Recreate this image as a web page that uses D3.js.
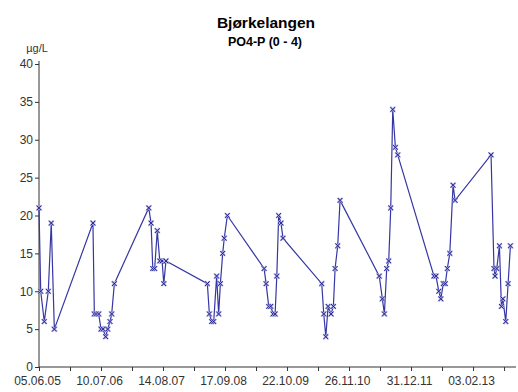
<!DOCTYPE html>
<html>
<head>
<meta charset="utf-8">
<script src="https://cdn.jsdelivr.net/npm/d3@7"></script>
<style>
  body { margin: 0; background: #fff; }
  text { font-family: "Liberation Sans", Arial, sans-serif; }
</style>
</head>
<body>
<div id="chart"></div>
<script>
  // sample dates and PO4-P values (µg/L)
  var dates = [
    "2005-06-05","2005-06-16","2005-07-09","2005-08-04","2005-08-23","2005-09-12",
    "2006-05-19","2006-05-28","2006-06-10","2006-06-25","2006-07-10","2006-07-23",
    "2006-08-09","2006-08-22","2006-09-06","2006-09-17","2006-10-04",
    "2007-05-14","2007-05-29","2007-06-09","2007-06-21","2007-07-08","2007-07-24",
    "2007-08-08","2007-08-19","2007-09-02",
    "2008-05-26","2008-06-08","2008-06-23","2008-07-06","2008-07-25","2008-08-07",
    "2008-08-18","2008-09-02","2008-09-12","2008-10-02",
    "2009-05-27","2009-06-09","2009-06-26","2009-07-09","2009-07-24","2009-08-06",
    "2009-08-17","2009-08-29","2009-09-13","2009-09-26",
    "2010-06-03","2010-06-16","2010-06-29","2010-07-14","2010-08-02","2010-08-17",
    "2010-08-28","2010-09-14","2010-09-29",
    "2011-06-09","2011-06-29","2011-07-12","2011-07-27","2011-08-09","2011-08-22",
    "2011-09-04","2011-09-21","2011-10-06",
    "2012-05-27","2012-06-09","2012-06-27","2012-07-10","2012-07-26","2012-08-08",
    "2012-08-21","2012-09-06","2012-09-27","2012-10-10",
    "2013-05-30","2013-06-18","2013-06-25","2013-07-06","2013-07-23","2013-08-05",
    "2013-08-14","2013-09-02","2013-09-17","2013-10-02"
  ];
  var values = [
    21, 10, 6, 10, 19, 5,
    19, 7, 7, 7, 5, 5,
    4, 5, 6, 7, 11,
    21, 19, 13, 13, 18, 14,
    14, 11, 14,
    11, 7, 6, 6, 12, 7,
    11, 15, 17, 20,
    13, 11, 8, 8, 7, 7,
    12, 20, 19, 17,
    11, 7, 4, 8, 7, 8,
    13, 16, 22,
    12, 9, 7, 13, 14, 21,
    34, 29, 28,
    12, 12, 10, 9, 11, 11,
    13, 15, 24, 22,
    28, 13, 12, 13, 16, 8,
    9, 6, 11, 16
  ];
  var yTicks = [0, 5, 10, 15, 20, 25, 30, 35, 40];

  var title = "Bjørkelangen";
  var subtitle = "PO4-P (0 - 4)";
  var unit = "µg/L";

  const parseTime = d3.timeParse("%Y-%m-%d");
  const formatTime = d3.timeFormat("%d.%m.%y");

  var data = dates.map((d, i) => ({ date: parseTime(d), value: values[i] }));

  var width = 518, height = 392;
  var margin = { top: 64, right: 2, bottom: 25, left: 39 };

  var svg = d3.select("#chart").append("svg")
    .attr("width", width)
    .attr("height", height);

  // axis runs from the first sample; minor ticks every 200 days, labels every 400
  var start = data[0].date;
  var x = d3.scaleTime()
    .domain([start, d3.timeDay.offset(start, 3077)])
    .range([margin.left, width - margin.right]);

  var y = d3.scaleLinear()
    .domain([0, 40])
    .range([height - margin.bottom, margin.top]);

  var xTicks = d3.range(0, 3077, 200).map(n => d3.timeDay.offset(start, n));

  // titles
  svg.append("text")
    .attr("x", 266).attr("y", 28)
    .attr("text-anchor", "middle")
    .attr("font-size", "15.5px")
    .attr("font-weight", "bold")
    .text(title);

  svg.append("text")
    .attr("x", 265).attr("y", 46)
    .attr("text-anchor", "middle")
    .attr("font-size", "12.5px")
    .attr("font-weight", "bold")
    .text(subtitle);

  svg.append("text")
    .attr("x", 37).attr("y", 52)
    .attr("text-anchor", "middle")
    .attr("font-size", "11px")
    .attr("fill", "#333")
    .text(unit);

  // axes
  var xAxis = d3.axisBottom(x)
    .tickValues(xTicks)
    .tickSize(4)
    .tickSizeOuter(0)
    .tickFormat((d, i) => i % 2 === 0 ? formatTime(d) : "");

  var xg = svg.append("g")
    .attr("transform", "translate(0," + y(0) + ")")
    .call(xAxis);
  xg.select(".domain").remove();
  xg.selectAll("text")
    .attr("font-size", "12px")
    .attr("fill", "#333")
    .attr("dy", "0.9em")
    .attr("dx", "-2px");
  xg.selectAll("line").attr("stroke", "#333");

  var yAxis = d3.axisLeft(y)
    .tickValues(yTicks)
    .tickSize(4)
    .tickSizeOuter(0);

  var yg = svg.append("g")
    .attr("transform", "translate(" + margin.left + ",0)")
    .call(yAxis);
  yg.select(".domain").remove();
  yg.selectAll("text")
    .attr("font-size", "12px")
    .attr("fill", "#333")
    .attr("x", -6);
  yg.selectAll("line").attr("stroke", "#333");

  svg.append("line")
    .attr("x1", margin.left).attr("x2", margin.left)
    .attr("y1", y(0)).attr("y2", y(40) - 3)
    .attr("stroke", "#333");
  svg.append("line")
    .attr("x1", margin.left).attr("x2", width - margin.right)
    .attr("y1", y(0)).attr("y2", y(0))
    .attr("stroke", "#333");

  // series line
  var line = d3.line()
    .x(d => x(d.date))
    .y(d => y(d.value));

  svg.append("path")
    .datum(data)
    .attr("fill", "none")
    .attr("stroke", "#3636a4")
    .attr("stroke-width", 1.2)
    .attr("d", line);

  // x markers
  var s = 2.4;
  var marks = svg.append("g").selectAll("g")
    .data(data)
    .enter().append("g")
    .attr("transform", d => "translate(" + x(d.date) + "," + y(d.value) + ")");

  marks.append("path")
    .attr("d", `M${-s},${-s}L${s},${s}M${-s},${s}L${s},${-s}`)
    .attr("stroke", "#aaaadd")
    .attr("stroke-width", 2);
  marks.append("path")
    .attr("d", `M${-s},${-s}L${s},${s}M${-s},${s}L${s},${-s}`)
    .attr("stroke", "#1a1a8c")
    .attr("stroke-width", 0.9);
</script>
</body>
</html>
